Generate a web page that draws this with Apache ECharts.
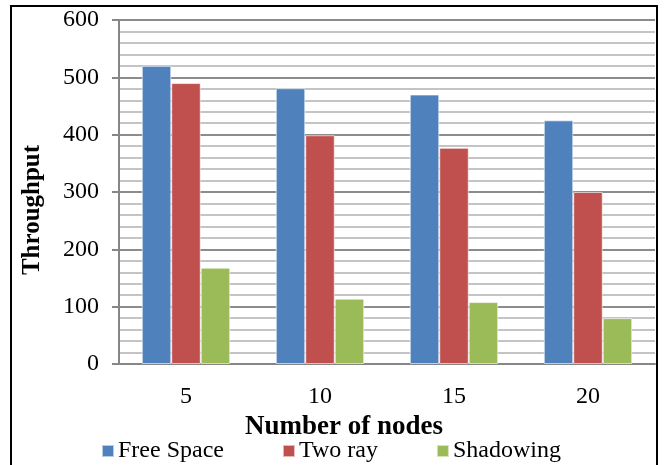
<!DOCTYPE html>
<html>
<head>
<meta charset="utf-8">
<script src="https://cdn.jsdelivr.net/npm/echarts@6/dist/echarts.min.js"></script>
<style>
html, body { margin: 0; padding: 0; background: #fff; }
#chart { width: 664px; height: 465px; }
</style>
</head>
<body>
<div id="chart"></div>
<script>
// values
const nodes = ['5', '10', '15', '20'];
const freeSpace = [520, 481, 470, 425];
const twoRay = [490, 399, 377, 300];
const shadowing = [168, 114, 108, 80];

const serif = '"Liberation Serif", "DejaVu Serif", serif';

var myChart = echarts.init(document.getElementById('chart'));

function barSeries(name, data, color) {
    return {
        name: name,
        type: 'bar',
        data: data,
        barGap: '0%',
        barCategoryGap: '34%',
        itemStyle: {
            color: color,
            borderColor: 'rgba(255,255,255,0.6)',
            borderWidth: 1
        }
    };
}

myChart.setOption({
    animation: false,
    textStyle: { fontFamily: serif },
    graphic: [{
        type: 'rect',
        shape: { x: 11, y: 6, width: 646, height: 480 },
        style: { fill: 'none', stroke: '#000', lineWidth: 2 },
        silent: true
    }],
    legend: {
        left: 96,
        top: 434,
        itemWidth: 12,
        itemHeight: 12,
        itemGap: 58,
        icon: 'rect',
        textStyle: { fontFamily: serif, fontSize: 24, color: '#000', padding: [0, 0, 0, -1] },
        data: ['Free Space', 'Two ray', 'Shadowing']
    },
    grid: {
        left: 119,
        right: 9,
        top: 20,
        bottom: 101
    },
    xAxis: {
        type: 'category',
        data: nodes,
        name: 'Number of nodes',
        nameLocation: 'middle',
        nameGap: 48,
        nameTextStyle: { fontFamily: serif, fontSize: 27, fontWeight: 'bold', color: '#000', padding: [0, 86, 0, 0] },
        axisLine: { lineStyle: { color: '#868686', width: 2 } },
        axisTick: { show: false },
        axisLabel: { fontFamily: serif, fontSize: 24, color: '#000', margin: 21 }
    },
    yAxis: {
        type: 'value',
        min: 0,
        max: 600,
        interval: 100,
        name: 'Throughput',
        nameLocation: 'middle',
        nameGap: 74,
        nameTextStyle: { fontFamily: serif, fontSize: 25, fontWeight: 'bold', color: '#000', padding: [0, 36, 0, 0] },
        axisLine: { show: true, lineStyle: { color: '#868686', width: 2 } },
        axisTick: { show: true, length: 7, lineStyle: { color: '#868686', width: 2 } },
        axisLabel: { fontFamily: serif, fontSize: 24, color: '#000', margin: 20 },
        splitLine: { lineStyle: { color: '#8c8c8c', width: 2 } },
        minorTick: { show: false, splitNumber: 5 },
        minorSplitLine: { show: true, lineStyle: { color: '#c4c4c4', width: 2 } }
    },
    series: [
        barSeries('Free Space', freeSpace, '#4F81BD'),
        barSeries('Two ray', twoRay, '#C0504D'),
        barSeries('Shadowing', shadowing, '#9BBB59')
    ]
});
</script>
</body>
</html>
